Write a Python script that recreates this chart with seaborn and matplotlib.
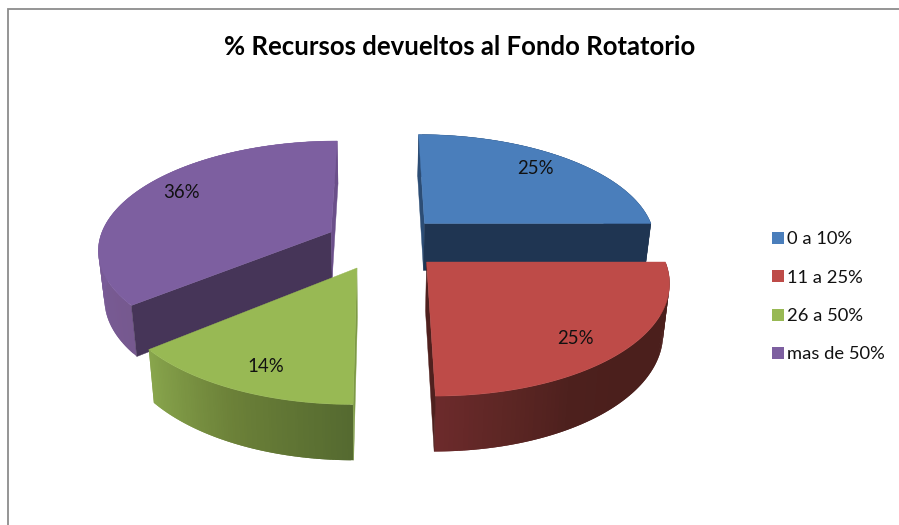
"""
Exploded 3D pie: % Recursos devueltos al Fondo Rotatorio
Slices come from the share values, projected with a simple perspective.
"""

import numpy as np
import matplotlib.pyplot as plt
from matplotlib.collections import PolyCollection
from matplotlib.patches import Patch
import seaborn as sns

# === Data ===
TITLE = "% Recursos devueltos al Fondo Rotatorio"
categories = ["0 a 10%", "11 a 25%", "26 a 50%", "mas de 50%"]
shares = [25, 25, 14, 36]

# === Style ===
top_colors = ["#4a7ebb", "#be4b48", "#98b954", "#7d5fa0"]
# side faces at the start and end of each slice, None when hidden from view
start_faces = ["#2c4d75", None, "#7d9a45", "#463558"]
end_faces = ["#1f3552", "#4f201e", None, "#6b4f8a"]
# wall colours run clockwise over each slice's arc
wall_stops = [
    ["#1f3552", "#1f3552"],
    ["#4b1f1c", "#4b1f1c", "#4b1f1c", "#4b1f1c", "#4d201d", "#5c2624", "#6c2a2b"],
    ["#556a30", "#6b8038", "#88a54c"],
    ["#76598f", "#7a5c9a", "#7d5fa0", "#7d5fa0"],
]
# explode offset of each slice on the pie plane, in radius units
offsets = [(0.2055, 0.1955), (0.2034, -0.1626), (-0.0874, -0.215), (-0.2047, 0.113)]
draw_order = [3, 0, 2, 1]
label_xy = [(536, 169), (576, 338), (266, 367), (181, 192)]

CX, CY, RX, RY, PERSP = 378, 244, 233, 108, 0.15
DEPTH, DEPTH_PERSP, BOTTOM_SHRINK = 48, 0.115, 0.978
FONT = ["Lato", "DejaVu Sans"]


# === Projection ===
def project(u, v, bottom=False):
    w = 1 + PERSP * v
    x = CX + RX * u / w
    y = CY - RY * v / w
    if bottom:
        x = CX + (x - CX) * BOTTOM_SHRINK
        y = y + DEPTH / (1 + DEPTH_PERSP * v)
    return np.column_stack([x, y])


def quad(p, q, r, s):
    return np.array([p, q, r, s])


# === Draw one slice: outer wall, side faces, top ===
def draw_slice(ax, i, start, end):
    du, dv = offsets[i]
    theta = np.linspace(start, end, 90)
    u = du + np.sin(theta)
    v = dv + np.cos(theta)
    apex_top = project(np.array([du]), np.array([dv]))[0]
    apex_bot = project(np.array([du]), np.array([dv]), bottom=True)[0]
    arc_top = project(u, v)
    arc_bot = project(u, v, bottom=True)

    # each strip reaches over the next one so no seams show in the gradient
    n = len(theta) - 1
    shades = sns.blend_palette(wall_stops[i], n_colors=n)
    quads = [quad(arc_top[j], arc_top[min(j + 2, n)], arc_bot[min(j + 2, n)], arc_bot[j]) for j in range(n)]
    ax.add_collection(PolyCollection(quads, facecolors=shades, edgecolors="none", zorder=1))

    if start_faces[i]:
        ax.fill(*quad(apex_top, arc_top[0], arc_bot[0], apex_bot).T, color=start_faces[i], lw=0.3, zorder=1)
    if end_faces[i]:
        ax.fill(*quad(apex_top, arc_top[-1], arc_bot[-1], apex_bot).T, color=end_faces[i], lw=0.3, zorder=1)

    ax.fill(*np.vstack([apex_top, arc_top]).T, color=top_colors[i], lw=0.3, zorder=1)


# === Main ===
def main():
    sns.set_theme(style="white")
    plt.rcParams["font.family"] = FONT

    fig = plt.figure(figsize=(8.99, 5.25), dpi=100)
    ax = fig.add_axes([0, 0, 1, 1])
    ax.set_xlim(0, 899)
    ax.set_ylim(525, 0)
    ax.axis("off")

    edges = np.cumsum([0] + shares) / sum(shares) * 2 * np.pi
    for i in draw_order:
        draw_slice(ax, i, edges[i], edges[i + 1])

    for share, (x, y) in zip(shares, label_xy):
        ax.text(x, y, f"{share}%", ha="center", va="center", fontsize=13.4, color="#111111", zorder=5)

    ax.text(460, 47, TITLE, ha="center", va="center", fontsize=18.5, fontweight="bold", color="black")

    # chart frame, only the left and top edges are in view
    ax.plot([8, 8, 899], [525, 9, 9], color="#8c8c8c", lw=1.3, solid_joinstyle="miter")

    handles = [Patch(facecolor=c, edgecolor="none") for c in top_colors]
    ax.legend(
        handles, categories, loc="upper left", bbox_to_anchor=(764.6 / 899, 1 - 224 / 525),
        frameon=False, fontsize=13.2, handlelength=0.65, handleheight=0.65,
        handletextpad=0.18, labelspacing=1.22, borderpad=0.4, borderaxespad=0,
        labelcolor="#111111",
    )

    fig.savefig("out.png", dpi=100)
    plt.close(fig)


if __name__ == "__main__":
    main()
